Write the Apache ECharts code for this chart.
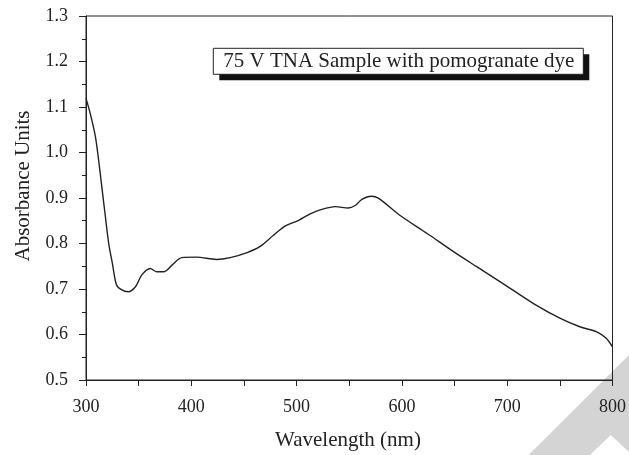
<!DOCTYPE html>
<html>
<head>
<meta charset="utf-8">
<script src="https://cdn.jsdelivr.net/npm/echarts@6/dist/echarts.min.js"></script>
<style>html,body{margin:0;padding:0;background:#fff;}#c{width:629px;height:455px;}</style>
</head>
<body>
<div id="c"></div>
<script>
var wavelengths = [300,304,309,312,315,318,321.5,325,329,334,340,347,353,361,367,374,382,391,405,424,437,453,465,478,489,502,513,524,537,549,556,562,571,578,598,624,649,671,696,725,750,769,785,794,800];
var absorbance = [1.119,1.086,1.034,0.983,0.925,0.867,0.801,0.757,0.709,0.698,0.694,0.705,0.731,0.745,0.738,0.738,0.753,0.769,0.770,0.765,0.769,0.780,0.793,0.818,0.838,0.851,0.865,0.875,0.881,0.878,0.884,0.897,0.904,0.899,0.862,0.822,0.782,0.749,0.712,0.668,0.636,0.617,0.606,0.592,0.573];
var legendText = '75 V TNA Sample with pomogranate dye';
var xName = 'Wavelength (nm)';
var yName = 'Absorbance Units';

var serif = '"Liberation Serif", "DejaVu Serif", serif';
var ink = '#222';
var pts = wavelengths.map(function(w, i){ return [w, absorbance[i]]; });

var chart = echarts.init(document.getElementById('c'), null, {renderer: 'canvas'});
chart.setOption({
  animation: false,
  backgroundColor: '#fff',
  grid: {left: 86, right: 16, top: 16, bottom: 75, show: true, borderColor: ink, borderWidth: 1, backgroundColor: 'transparent'},
  xAxis: {
    type: 'value', min: 300, max: 800, interval: 100,
    axisLine: {show: true, lineStyle: {color: ink, width: 1}},
    axisTick: {show: true, inside: false, length: 6, lineStyle: {color: ink}},
    minorTick: {show: true, splitNumber: 2, length: 6, lineStyle: {color: ink}},
    splitLine: {show: false},
    axisLabel: {color: ink, fontFamily: serif, fontSize: 18, margin: 18}
  },
  yAxis: {
    type: 'value', min: 0.5, max: 1.3, interval: 0.1,
    axisLine: {show: true, lineStyle: {color: ink, width: 1}},
    axisTick: {show: true, inside: false, length: 7, lineStyle: {color: ink}},
    minorTick: {show: true, splitNumber: 2, length: 4, lineStyle: {color: ink}},
    splitLine: {show: false},
    axisLabel: {color: ink, fontFamily: serif, fontSize: 18, margin: 18, formatter: function(v){ return v.toFixed(1); }}
  },
  series: [{
    type: 'line', data: pts, showSymbol: false, smooth: 0.3,
    lineStyle: {color: ink, width: 1.4}, z: 3
  }],
  graphic: [
    {type: 'polygon', silent: true, z: -10, shape: {points: [[528.7,455],[629,355],[629,452],[610.7,435],[590,455]]}, style: {fill: '#d4d4d4'}},
    {type: 'rect', shape: {x: 219.3, y: 54.3, width: 370, height: 26}, style: {fill: '#111'}},
    {type: 'rect', shape: {x: 213.3, y: 48.3, width: 370, height: 26}, style: {fill: '#fff', stroke: ink, lineWidth: 1}},
    {type: 'text', x: 398.8, y: 61.5, style: {text: legendText, font: '21px ' + serif, fill: ink, textAlign: 'center', textVerticalAlign: 'middle'}},
    {type: 'text', x: 23, y: 186, rotation: Math.PI/2, style: {text: yName, font: '21px ' + serif, fill: ink, textAlign: 'center', textVerticalAlign: 'middle'}},
    {type: 'text', x: 348, y: 440, style: {text: xName, font: '21px ' + serif, fill: ink, textAlign: 'center', textVerticalAlign: 'middle'}}
  ]
});
</script>
</body>
</html>
